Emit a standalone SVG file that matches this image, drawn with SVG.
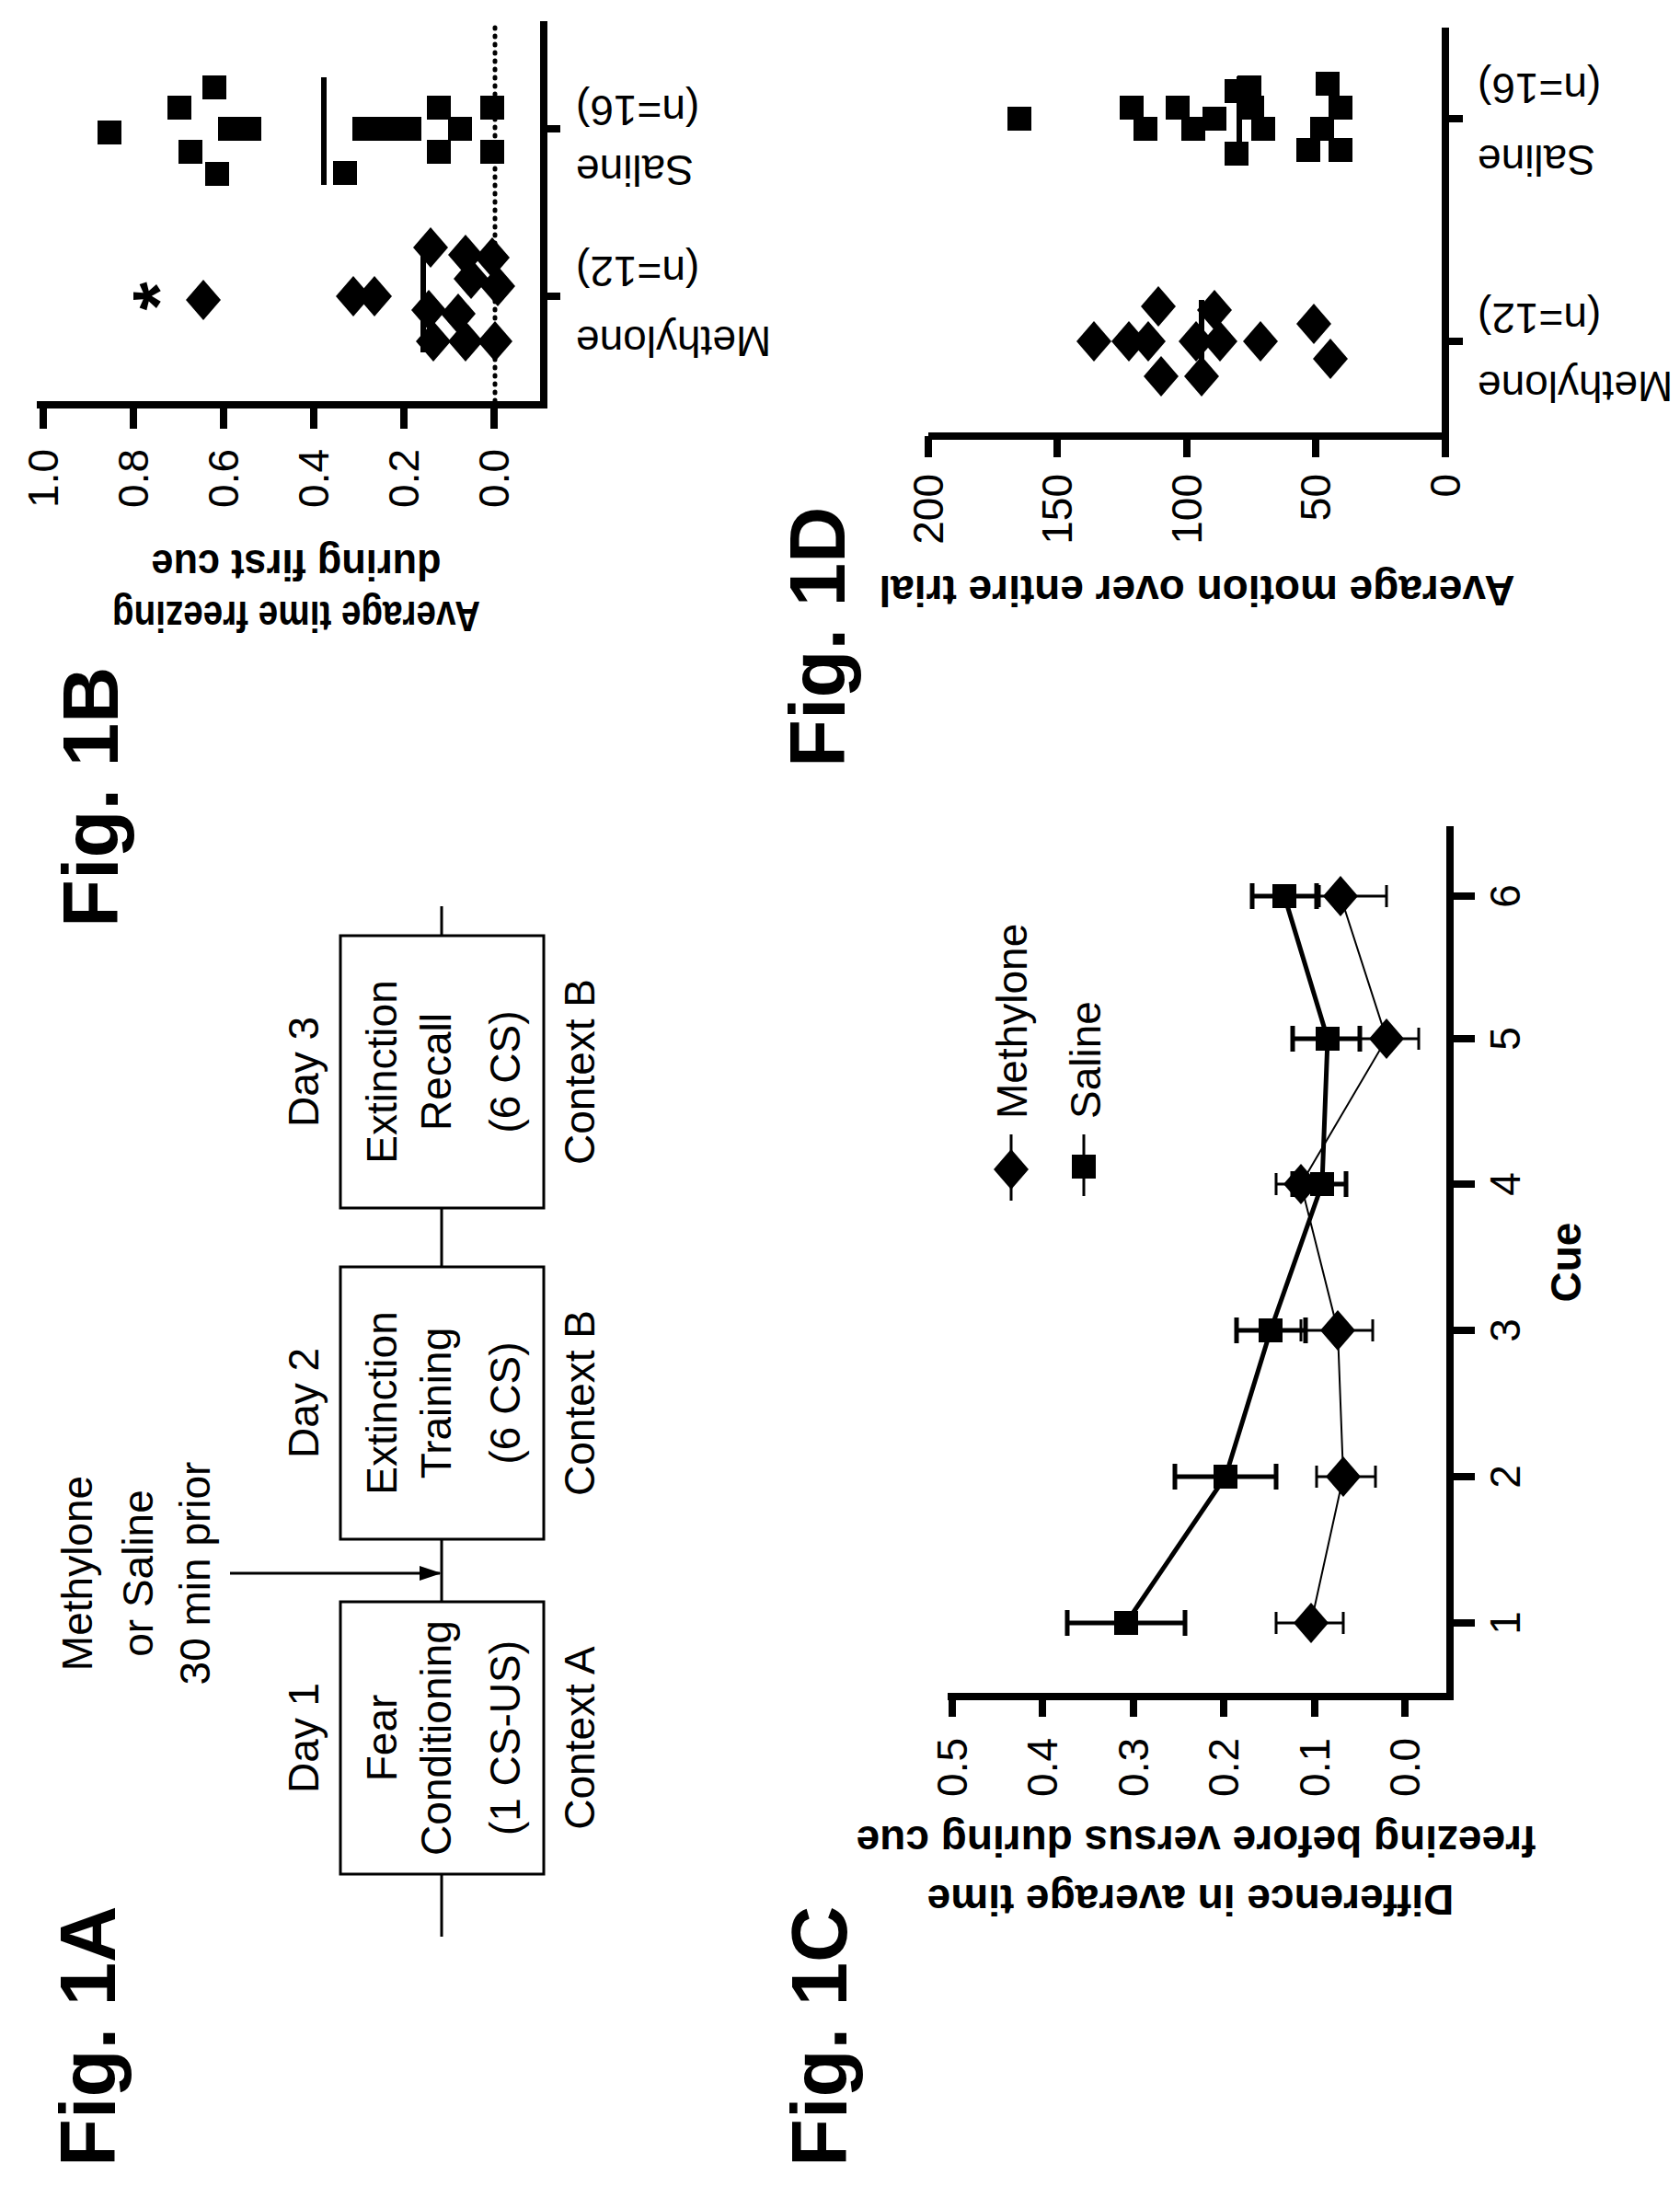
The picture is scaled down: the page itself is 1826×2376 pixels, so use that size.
<svg xmlns="http://www.w3.org/2000/svg" width="1826" height="2376" viewBox="0 0 1826 2376">
<style>
.t{font-family:"Liberation Sans",Arial,sans-serif;font-size:46px;fill:#000}
.b{font-family:"Liberation Sans",Arial,sans-serif;font-weight:bold;font-size:46px;fill:#000}
.fig{font-family:"Liberation Sans",Arial,sans-serif;font-weight:bold;font-size:85px;fill:#000}
.ax{stroke:#000;stroke-width:8;fill:none}
.box{stroke:#000;stroke-width:3;fill:#fff}
.m{text-anchor:middle}
.e{text-anchor:end}
</style>
<defs>
<marker id="ar" markerWidth="24" markerHeight="20" refX="22" refY="10" orient="auto" markerUnits="userSpaceOnUse"><path d="M0,2 L24,10 L0,18 z" fill="#000"/></marker>
<path id="dia" d="M-22,0 L0,-19 L22,0 L0,19 z" fill="#000"/>
<rect id="sq" x="-13" y="-13" width="26" height="26" fill="#000"/>
</defs>
<rect width="1826" height="2376" fill="#fff"/>
<g transform="translate(0,2376) rotate(-90)">
<g id="labels">
<text class="fig" x="21" y="125">Fig. 1A</text>
<text class="fig" x="1368" y="128">Fig. 1B</text>
<text class="fig" x="21" y="920">Fig. 1C</text>
<text class="fig" x="1542" y="918">Fig. 1D</text>
</g>
<g id="connectors">
<line x1="271" y1="480" x2="1391" y2="480" stroke="#000" stroke-width="3"/>
<line x1="666" y1="250" x2="666" y2="478" stroke="#000" stroke-width="3" marker-end="url(#ar)"/>
</g>
<g id="note">
<text class="t m" x="666" y="100">Methylone</text>
<text class="t m" x="666" y="166">or Saline</text>
<text class="t m" x="666" y="228">30 min prior</text>
</g>
<g id="day1">
<rect class="box" x="339" y="370" width="296" height="221"/>
<text class="t m" x="487" y="346">Day 1</text>
<text class="t m" x="487" y="431">Fear</text>
<text class="t m" x="487" y="490">Conditioning</text>
<text class="t m" x="487" y="565">(1 CS-US)</text>
<text class="t m" x="487" y="646">Context A</text>
</g>
<g id="day2">
<rect class="box" x="703" y="370" width="296" height="221"/>
<text class="t m" x="851" y="346">Day 2</text>
<text class="t m" x="851" y="431">Extinction</text>
<text class="t m" x="851" y="490">Training</text>
<text class="t m" x="851" y="565">(6 CS)</text>
<text class="t m" x="851" y="646">Context B</text>
</g>
<g id="day3">
<rect class="box" x="1063" y="370" width="296" height="221"/>
<text class="t m" x="1211" y="346">Day 3</text>
<text class="t m" x="1211" y="431">Extinction</text>
<text class="t m" x="1211" y="490">Recall</text>
<text class="t m" x="1211" y="565">(6 CS)</text>
<text class="t m" x="1211" y="646">Context B</text>
</g>
<g id="fig1b">
<path class="ax" d="M1936,40 V591 H2353"/>
<path class="ax" d="M1910,47 H1936 M1910,145 H1936 M1910,243 H1936 M1910,341 H1936 M1910,439 H1936 M1910,537 H1936 M2054,591 V609 M2236,591 V609"/>
<text class="t e" x="1888" y="63">1.0</text>
<text class="t e" x="1888" y="161">0.8</text>
<text class="t e" x="1888" y="259">0.6</text>
<text class="t e" x="1888" y="357">0.4</text>
<text class="t e" x="1888" y="455">0.2</text>
<text class="t e" x="1888" y="553">0.0</text>
<text class="b m" transform="rotate(-90 1722 322)" x="1722" y="322" textLength="400" lengthAdjust="spacingAndGlyphs">Average time freezing</text>
<text class="b m" transform="rotate(-90 1778 322)" x="1778" y="322" textLength="315" lengthAdjust="spacingAndGlyphs">during first cue</text>
<text class="t e" transform="rotate(-90 2021 626)" x="2021" y="626">Methylone</text>
<text class="t e" transform="rotate(-90 2097 626)" x="2097" y="626">(n=12)</text>
<text class="t e" transform="rotate(-90 2207 626)" x="2207" y="626">Saline</text>
<text class="t e" transform="rotate(-90 2272 626)" x="2272" y="626">(n=16)</text>
<line x1="1940" y1="538" x2="2353" y2="538" stroke="#000" stroke-width="5" stroke-dasharray="1,8" stroke-linecap="round"/>
<text x="2054" y="200" style="font-family:'Liberation Sans',Arial,sans-serif;font-weight:bold;font-size:80px;text-anchor:middle">*</text>
<use href="#dia" x="2050" y="221"/><use href="#dia" x="2054" y="384"/><use href="#dia" x="2054" y="407"/>
<use href="#dia" x="2107" y="468"/><use href="#dia" x="2099" y="506"/><use href="#dia" x="2096" y="535"/>
<use href="#dia" x="2039" y="466"/><use href="#dia" x="2035" y="498"/><use href="#dia" x="2073" y="512"/>
<use href="#dia" x="2065" y="541"/><use href="#dia" x="2005" y="471"/><use href="#dia" x="2005" y="506"/><use href="#dia" x="2005" y="538"/>
<line x1="1993" y1="460" x2="2111" y2="460" stroke="#000" stroke-width="6"/>
<use href="#sq" x="2232" y="119"/><use href="#sq" x="2259" y="195"/><use href="#sq" x="2211" y="207"/>
<use href="#sq" x="2281" y="233"/><use href="#sq" x="2187" y="236"/><use href="#sq" x="2236" y="250"/><use href="#sq" x="2236" y="271"/>
<use href="#sq" x="2188" y="375"/><use href="#sq" x="2236" y="396"/><use href="#sq" x="2236" y="419"/><use href="#sq" x="2236" y="445"/>
<use href="#sq" x="2259" y="477"/><use href="#sq" x="2211" y="477"/><use href="#sq" x="2236" y="500"/>
<use href="#sq" x="2259" y="535"/><use href="#sq" x="2211" y="535"/>
<line x1="2175" y1="352" x2="2292" y2="352" stroke="#000" stroke-width="6"/>
</g>
<g id="fig1c">
<path class="ax" d="M532,1030 V1576 H1478"/>
<path class="ax" d="M510,1035 H532 M510,1133 H532 M510,1232 H532 M510,1330 H532 M510,1429 H532 M510,1527 H532 M612,1576 V1603 M771,1576 V1603 M930,1576 V1603 M1089,1576 V1603 M1247,1576 V1603 M1402,1576 V1603"/>
<text class="t e" x="487" y="1051">0.5</text>
<text class="t e" x="487" y="1149">0.4</text>
<text class="t e" x="487" y="1248">0.3</text>
<text class="t e" x="487" y="1346">0.2</text>
<text class="t e" x="487" y="1445">0.1</text>
<text class="t e" x="487" y="1543">0.0</text>
<text class="t m" x="612" y="1652">1</text><text class="t m" x="771" y="1652">2</text><text class="t m" x="930" y="1652">3</text>
<text class="t m" x="1089" y="1652">4</text><text class="t m" x="1247" y="1652">5</text><text class="t m" x="1402" y="1652">6</text>
<text class="b m" x="1004" y="1718">Cue</text>
<text class="b m" transform="rotate(-90 327 1294)" x="327" y="1294">Difference in average time</text>
<text class="b m" transform="rotate(-90 391 1300)" x="391" y="1300">freezing before versus during cue</text>
<polyline points="612,1425 771,1460 930,1454 1089,1414 1247,1507 1402,1457" fill="none" stroke="#000" stroke-width="2"/>
<path d="M612,1387 V1460 M600,1387 H624 M600,1460 H624 M771,1431 V1495 M759,1431 H783 M759,1495 H783 M930,1414 V1492 M918,1414 H942 M918,1492 H942 M1089,1387 V1440 M1077,1387 H1101 M1077,1440 H1101 M1247,1478 V1542 M1235,1478 H1259 M1235,1542 H1259 M1402,1434 V1507 M1390,1434 H1414 M1390,1507 H1414" stroke="#000" stroke-width="3" fill="none"/>
<use href="#dia" x="612" y="1425"/><use href="#dia" x="771" y="1460"/><use href="#dia" x="930" y="1454"/>
<use href="#dia" x="1089" y="1414"/><use href="#dia" x="1247" y="1507"/><use href="#dia" x="1402" y="1457"/>
<polyline points="612,1224 771,1332 930,1381 1089,1437 1247,1443 1402,1396" fill="none" stroke="#000" stroke-width="5"/>
<path d="M612,1160 V1288 M598,1160 H626 M598,1288 H626 M771,1277 V1387 M757,1277 H785 M757,1387 H785 M930,1344 V1419 M916,1344 H944 M916,1419 H944 M1089,1405 V1463 M1075,1405 H1103 M1075,1463 H1103 M1247,1405 V1478 M1233,1405 H1261 M1233,1478 H1261 M1402,1361 V1431 M1388,1361 H1416 M1388,1431 H1416" stroke="#000" stroke-width="5" fill="none"/>
<use href="#sq" x="612" y="1224"/><use href="#sq" x="771" y="1332"/><use href="#sq" x="930" y="1381"/>
<use href="#sq" x="1089" y="1437"/><use href="#sq" x="1247" y="1443"/><use href="#sq" x="1402" y="1396"/>
</g>
<g id="legend">
<line x1="1071" y1="1099" x2="1143" y2="1099" stroke="#000" stroke-width="3"/>
<use href="#dia" x="1105" y="1099"/>
<text class="t" x="1160" y="1116">Methylone</text>
<line x1="1076" y1="1178" x2="1143" y2="1178" stroke="#000" stroke-width="3"/>
<use href="#sq" x="1108" y="1178"/>
<text class="t" x="1160" y="1196">Saline</text>
</g>
<g id="fig1d">
<path class="ax" d="M1902,1009 V1571 H2346"/>
<path class="ax" d="M1879,1009 H1902 M1879,1149 H1902 M1879,1290 H1902 M1879,1430 H1902 M1879,1571 H1902 M2005,1571 V1590 M2247,1571 V1590"/>
<text class="t e" x="1861" y="1025">200</text>
<text class="t e" x="1861" y="1165">150</text>
<text class="t e" x="1861" y="1306">100</text>
<text class="t e" x="1861" y="1446">50</text>
<text class="t e" x="1861" y="1587">0</text>
<text class="b m" transform="rotate(-90 1750 1301)" x="1750" y="1301">Average motion over entire trial</text>
<text class="t e" transform="rotate(-90 1972 1606)" x="1972" y="1606">Methylone</text>
<text class="t e" transform="rotate(-90 2046 1606)" x="2046" y="1606">(n=12)</text>
<text class="t e" transform="rotate(-90 2218 1606)" x="2218" y="1606">Saline</text>
<text class="t e" transform="rotate(-90 2296 1606)" x="2296" y="1606">(n=16)</text>
<use href="#dia" x="2005" y="1189"/><use href="#dia" x="2005" y="1227"/><use href="#dia" x="2005" y="1248"/>
<use href="#dia" x="2043" y="1259"/><use href="#dia" x="1967" y="1262"/><use href="#dia" x="2005" y="1300"/>
<use href="#dia" x="1967" y="1306"/><use href="#dia" x="2039" y="1320"/><use href="#dia" x="2005" y="1326"/>
<use href="#dia" x="2005" y="1370"/><use href="#dia" x="2024" y="1428"/><use href="#dia" x="1986" y="1446"/>
<line x1="1963" y1="1306" x2="2050" y2="1306" stroke="#000" stroke-width="6"/>
<use href="#sq" x="2247" y="1108"/><use href="#sq" x="2259" y="1230"/><use href="#sq" x="2236" y="1245"/>
<use href="#sq" x="2259" y="1280"/><use href="#sq" x="2236" y="1297"/><use href="#sq" x="2247" y="1320"/>
<use href="#sq" x="2277" y="1344"/><use href="#sq" x="2281" y="1358"/><use href="#sq" x="2259" y="1361"/>
<use href="#sq" x="2236" y="1373"/><use href="#sq" x="2209" y="1344"/><use href="#sq" x="2213" y="1422"/>
<use href="#sq" x="2236" y="1437"/><use href="#sq" x="2285" y="1443"/><use href="#sq" x="2259" y="1457"/><use href="#sq" x="2213" y="1457"/>
<line x1="2205" y1="1347" x2="2293" y2="1347" stroke="#000" stroke-width="6"/>
</g>
</g>
</svg>
